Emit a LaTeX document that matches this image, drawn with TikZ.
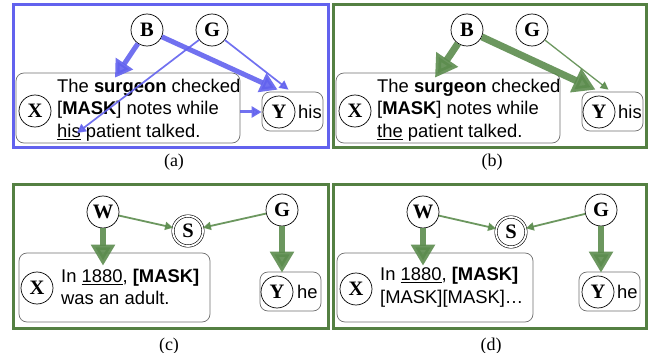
\documentclass[tikz,border=0pt]{standalone}
\usepackage{fontspec}
\setmainfont{Liberation Sans}
\newfontfamily\capfont{Liberation Serif}
\usetikzlibrary{arrows.meta,calc}
\definecolor{bluec}{RGB}{98,98,238}
\definecolor{greenc}{RGB}{92,140,78}
\definecolor{greenf}{RGB}{84,128,66}
\definecolor{boxgray}{RGB}{110,110,110}
\tikzset{
  frameblue/.style={draw=bluec, line width=3pt, inner sep=0pt, outer sep=0pt},
  framegreen/.style={draw=greenf, line width=3pt, inner sep=0pt, outer sep=0pt},
  circ/.style={circle, draw, line width=0.7pt, minimum size=32pt, inner sep=0pt, font=\capfont\bfseries\fontsize{20.5}{20.5}\selectfont},
  dcirc/.style={circle, draw, line width=0.6pt, double, double distance=1.8pt, minimum size=30pt, inner sep=0pt, font=\capfont\bfseries\fontsize{20.5}{20.5}\selectfont},
  sbox/.style={draw=boxgray, rounded corners=8pt, line width=0.7pt, inner sep=0pt},
  txt/.style={anchor=west, align=left, inner sep=0pt, font=\fontsize{18.4}{22.5}\selectfont},
  word/.style={anchor=west, inner sep=0pt, font=\fontsize{18.4}{22.5}\selectfont},
  captext/.style={inner sep=0pt, font=\capfont\fontsize{18}{18}\selectfont},
  bthick/.style={draw=bluec, line width=5pt, opacity=0.9, -{Triangle[width=20pt,length=17pt]}},
  bmed/.style={draw=bluec, line width=3pt, opacity=0.9, -{Triangle[width=11pt,length=10pt]}},
  bthin/.style={draw=bluec, line width=1.7pt, opacity=0.9, -{Triangle[width=9pt,length=9pt]}},
  gthick/.style={draw=greenc, line width=7pt, opacity=0.9, -{Triangle[width=25pt,length=22pt]}},
  gvert/.style={draw=greenc, line width=6pt, opacity=0.9, -{Triangle[width=23pt,length=21pt]}},
  gthin/.style={draw=greenc, line width=1.8pt, opacity=0.9, -{Triangle[width=8pt,length=8pt]}},
  gthinner/.style={draw=greenc, line width=1.3pt, opacity=0.9, -{Triangle[width=8pt,length=8pt]}},
}
\begin{document}
\begin{tikzpicture}[x=1pt,y=-1pt]
\useasboundingbox (0,0) rectangle (649,353);

% ---------- panel (a) ----------
\node[frameblue, minimum width=315pt, minimum height=143pt] (fa) at (170.5,76.5) {};
\node[sbox, minimum width=224pt, minimum height=70pt] (boxa) at (128,108) {};
\node[sbox, minimum width=61pt, minimum height=39pt] (yba) at (292.5,111.5) {};
\node[circ] (Ba) at (147,30) {B};
\node[circ] (Ga) at (212,30) {G};
\node[circ] (Xa) at (35,111) {X};
\node[circ] (Ya) at (279,112) {Y};
\node[txt] (ta) at (57,110) {The \textbf{surgeon} checked\\{}[\textbf{MASK}] notes while\\\underline{his} patient talked.};
\node[word] (hisa) at (298,112) {his};
\coordinate (hisu) at (77,133);
\node[captext] (ca) at (174,162) {(a)};
\draw[bthick] (Ba) -- ([xshift=-13pt,yshift=-5pt]boxa.north);
\draw[bthick] (Ba) -- ([xshift=-15pt,yshift=2pt]yba.north);
\draw[bthin] (Ga) -- ([xshift=-4pt,yshift=2pt]yba.north);
\draw[bthin] (Ga) -- (hisu);
\draw[bmed] (boxa.east |- Ya) -- (yba.west |- Ya);

% ---------- panel (b) ----------
\node[framegreen, minimum width=313pt, minimum height=143pt] (fb) at (489.5,76.5) {};
\node[sbox, minimum width=224pt, minimum height=70pt] (boxb) at (448,108) {};
\node[sbox, minimum width=61pt, minimum height=39pt] (ybb) at (612.5,111.5) {};
\node[circ] (Bb) at (467,30) {B};
\node[circ] (Gb) at (532,30) {G};
\node[circ] (Xb) at (355,111) {X};
\node[circ] (Yb) at (599,112) {Y};
\node[txt] (tb) at (377,110) {The \textbf{surgeon} checked\\{}[\textbf{MASK}] notes while\\\underline{the} patient talked.};
\node[word] (hisb) at (618,112) {his};
\node[captext] (cb) at (492,162) {(b)};
\draw[gthick] (Bb) -- ([xshift=-13pt,yshift=-5pt]boxb.north);
\draw[gthick] (Bb) -- ([xshift=-17pt,yshift=2pt]ybb.north);
\draw[gthinner] (Gb) -- ([xshift=-4pt,yshift=2pt]ybb.north);

% ---------- panel (c) ----------
\node[framegreen, minimum width=315pt, minimum height=144pt] (fc) at (170.5,256) {};
\node[sbox, minimum width=191pt, minimum height=69pt] (boxc) at (114.5,287.5) {};
\node[sbox, minimum width=61pt, minimum height=39pt] (ybc) at (290.5,291.5) {};
\node[circ] (Wc) at (103,212) {W};
\node[circ] (Gc) at (282,210) {G};
\node[dcirc] (Sc) at (188,231) {S};
\node[circ] (Xc) at (37,288) {X};
\node[circ] (Yc) at (277,292) {Y};
\node[txt] (tc) at (61,287) {In \underline{1880}, \textbf{[MASK]}\\was an adult.};
\node[word] (hec) at (297,292) {he};
\node[captext] (cc) at (169,346) {(c)};
\draw[gvert] (Wc) -- ([yshift=-13pt]Wc |- boxc.north);
\draw[gvert] (Gc) -- ([yshift=-1pt]Gc |- ybc.north);
\draw[gthin] (Wc) -- (Sc);
\draw[gthin] (Gc) -- (Sc);

% ---------- panel (d) ----------
\node[framegreen, minimum width=313pt, minimum height=144pt] (fd) at (489.5,256) {};
\node[sbox, minimum width=196pt, minimum height=69pt] (boxd) at (435,287.5) {};
\node[sbox, minimum width=61pt, minimum height=39pt] (ybd) at (609.5,291.5) {};
\node[circ] (Wd) at (423,212) {W};
\node[circ] (Gd) at (601,210) {G};
\node[dcirc] (Sd) at (511,232) {S};
\node[circ] (Xd) at (356,289) {X};
\node[circ] (Yd) at (598,292) {Y};
\node[txt] (td) at (380,287) {In \underline{1880}, \textbf{[MASK]}\\{}[MASK][MASK]\ldots};
\node[word] (hed) at (617,292) {he};
\node[captext] (cd) at (491,346) {(d)};
\draw[gvert] (Wd) -- ([yshift=-13pt]Wd |- boxd.north);
\draw[gvert] (Gd) -- ([yshift=-1pt]Gd |- ybd.north);
\draw[gthin] (Wd) -- (Sd);
\draw[gthin] (Gd) -- (Sd);
\end{tikzpicture}
\end{document}
